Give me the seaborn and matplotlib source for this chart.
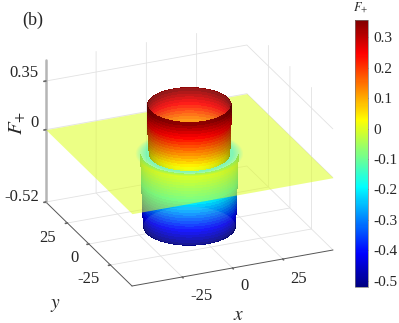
import numpy as np
import matplotlib
matplotlib.use("Agg")
import matplotlib.pyplot as plt
import seaborn as sns
from mpl_toolkits.mplot3d import proj3d
from mpl_toolkits.mplot3d.art3d import Poly3DCollection

sns.set_theme(style="white")
plt.rcParams.update({
    "font.family": ["Liberation Serif", "DejaVu Serif"],
    "mathtext.fontset": "stix",
    "grid.color": "#e2e2e2",
    "grid.linewidth": 0.6,
    "text.color": "#262626",
})

# ---- values ----
plane_x = [-50, 50]
plane_y = [-50, 50]
plane_z = [[0, 0], [0, 0]]

upper_levels = [0.35, 0.33, 0.31, 0.29, 0.27, 0.25, 0.23, 0.21, 0.19, 0.17, 0.15, 0.13,
                0.11, 0.09, 0.07, 0.05, 0.03, 0.01, 0.0]
upper_radii = [19.1, 19.1, 19.1, 19.1, 19.1, 19.1, 19.1, 19.0, 19.0, 19.0, 19.0, 18.9,
               18.9, 18.8, 18.7, 18.6, 18.5, 18.4, 18.3]
lower_levels = [0.0, -0.02, -0.04, -0.06, -0.08, -0.10, -0.12, -0.14, -0.16, -0.18, -0.20,
                -0.22, -0.24, -0.26, -0.28, -0.30, -0.32, -0.34, -0.36, -0.38, -0.40,
                -0.42, -0.44, -0.46, -0.48, -0.50, -0.52]
lower_radii = [22.4, 22.3, 22.3, 22.2, 22.2, 22.1, 22.1, 22.0, 22.0, 21.9, 21.9,
               21.8, 21.8, 21.7, 21.7, 21.6, 21.6, 21.5, 21.5, 21.4, 21.4,
               21.3, 21.3, 21.2, 21.2, 21.1, 21.0]
halo_radii = [24.5, 24.0, 23.5, 23.0, 22.5, 22.0, 21.5, 21.0, 20.5, 20.0]
halo_alpha = 0.055

x_ticks = [-25, 0, 25]
y_ticks = [-25, 0, 25]
z_ticks = [-0.52, 0, 0.35]
x_labels = ["-25", "0", "25"]
y_labels = ["-25", "0", "25"]
z_labels = ["-0.52", "0", "0.35"]
cbar_ticks = [-0.5, -0.4, -0.3, -0.2, -0.1, 0, 0.1, 0.2, 0.3]
cbar_labels = ["-0.5", "-0.4", "-0.3", "-0.2", "-0.1", "0", "0.1", "0.2", "0.3"]
cmap_stops = ["#000080", "#0000ff", "#0080ff", "#00ffff", "#80ff80",
              "#ffff00", "#ff8000", "#ff0000", "#800000"]
value_min, value_max = -0.52, 0.356
axis_top = 0.5

# ---- figure ----
fig = plt.figure(figsize=(3.99, 3.23), dpi=100, facecolor="white")
ax = fig.add_axes([0, 0, 1, 1], projection="3d", proj_type="ortho", computed_zorder=False)
ax.view_init(elev=24.7, azim=-113.2)
ax.set_xlim(-50, 50, view_margin=0)
ax.set_ylim(-50, 50, view_margin=0)
ax.set_zlim(value_min, axis_top, view_margin=0)
ax.set_box_aspect((1, 1, 0.714), zoom=1.0)

cmap = sns.blend_palette(cmap_stops, n_colors=256, as_cmap=True)
norm = plt.Normalize(value_min, value_max)

VIEW_AZ = np.deg2rad(-113.2)


def wall(levels, radii, front, zorder, light=0.3):
    start = VIEW_AZ - np.pi / 2 if front else VIEW_AZ + np.pi / 2
    th = np.linspace(start, start + np.pi, 121)
    z = np.asarray(levels, float)
    r = np.asarray(radii, float)
    T, Z = np.meshgrid(th, z)
    R = r[:, None] * np.ones_like(T)
    zc = 0.5 * (Z[:-1, :-1] + Z[1:, :-1])
    tc = 0.5 * (T[:-1, :-1] + T[:-1, 1:])
    rgba = cmap(norm(zc))
    shade = (1 - light) + light * np.abs(np.cos(tc - VIEW_AZ))
    rgba[..., :3] *= shade[..., None]
    ax.plot_surface(R * np.cos(T), R * np.sin(T), Z, facecolors=rgba, rstride=1, cstride=1,
                    shade=False, antialiased=False, linewidth=0, zorder=zorder)


def disc(radius, level, color, alpha, zorder):
    th = np.linspace(0, 2 * np.pi, 181)
    verts = np.column_stack([radius * np.cos(th), radius * np.sin(th), np.full_like(th, level)])
    ax.add_collection3d(Poly3DCollection([verts], facecolors=[matplotlib.colors.to_rgba(color, alpha)],
                                         edgecolors="none", linewidths=0, zorder=zorder))


# lower tube, seen through the plane
wall(lower_levels, lower_radii, True, 2)
disc(lower_radii[-1], value_min, "white", 0.1, 3)

# plane
PX, PY = np.meshgrid(plane_x, plane_y)
plane_rgba = np.array(cmap(norm(0.0)))
plane_rgba[3] = 0.55
ax.plot_surface(PX, PY, np.array(plane_z, float), color=plane_rgba, shade=False,
                antialiased=False, linewidth=0, zorder=4)

# pale ring around the foot of the tube
for r in halo_radii:
    disc(r, 0.0, cmap(norm(-0.2)), halo_alpha, 5)

# upper tube
wall(upper_levels, upper_radii, False, 6, light=0.2)
disc(upper_radii[0], upper_levels[0], "white", 0.1, 6.5)
wall(upper_levels, upper_radii, True, 7, light=0.45)

# axes styling
for a in (ax.xaxis, ax.yaxis, ax.zaxis):
    a.set_pane_color((1, 1, 1, 0))
    a.pane.set_edgecolor((1, 1, 1, 0))
    a._axinfo["tick"]["inward_factor"] = 0.12
    a._axinfo["tick"]["outward_factor"] = 0.0
ax.xaxis.line.set_color("#555555")
ax.yaxis.line.set_color("#555555")
ax.xaxis.line.set_linewidth(0.7)
ax.yaxis.line.set_linewidth(0.7)
ax.zaxis.line.set_color("#b5b5b5")
ax.zaxis.line.set_linewidth(1.8)
ax.set_xticks(x_ticks)
ax.set_yticks(y_ticks)
ax.set_zticks(z_ticks)
ax.set_xticklabels([])
ax.set_yticklabels([])
ax.set_zticklabels([])
ax.zaxis.set_ticks_position("upper")
ax.tick_params(color="#666666", width=0.5)
ax.grid(True)


def px(x, y, z):
    X, Y, _ = proj3d.proj_transform(x, y, z, ax.get_proj())
    return ax.transData.transform((X, Y))


# fit the box on the canvas: front corner and right corner of the floor
target_front = np.array([132.0, 323 - 286.0])
target_right = np.array([333.0, 323 - 250.0])
fig.canvas.draw()
a = px(-50, -50, value_min)
b = px(50, -50, value_min)
k = np.linalg.norm(target_right - target_front) / np.linalg.norm(b - a)
ax.set_box_aspect((1, 1, 0.714), zoom=k)
fig.canvas.draw()
a = px(-50, -50, value_min)
d = (target_front - a) / np.array([399.0, 323.0])
ax.set_position([d[0], d[1], 1, 1])
fig.canvas.draw()


def tick_text(point, offset, label, ha="center"):
    p = px(*point)
    fig.text((p[0] + offset[0]) / 399, (p[1] - offset[1]) / 323, label, fontsize=12,
             ha=ha, va="center", color="#262626")


for v, lab, off in zip(x_ticks, x_labels, [(19, 19), (12, 18), (16, 20)]):
    tick_text((v, -50, value_min), off, lab)
for v, lab, off in zip(y_ticks, y_labels, [(-22, 14), (-14, 14), (-20, 15)]):
    tick_text((-50, v, value_min), off, lab)
for v, lab, off in zip(z_ticks, z_labels, [(-7, -5), (-7, -7), (-7, -8)]):
    tick_text((-50, 50, v), off, lab, ha="right")

# axis names and panel mark
fig.text(239 / 399, 1 - 316 / 323, r"$x$", fontsize=14, ha="center", va="center")
fig.text(55 / 399, 1 - 305 / 323, r"$y$", fontsize=14, ha="center", va="center")
fig.text(17 / 399, 1 - 123 / 323, r"$F_{+}$", fontsize=15, rotation=90, ha="center", va="center")
fig.text(33 / 399, 1 - 20 / 323, "(b)", fontsize=13, ha="center", va="center")

# colour bar
cax = fig.add_axes([355 / 399, 1 - 287 / 323, 13 / 399, 267 / 323])
sm = plt.cm.ScalarMappable(norm=norm, cmap=cmap)
cb = fig.colorbar(sm, cax=cax)
cb.set_ticks(cbar_ticks)
cb.set_ticklabels(cbar_labels)
cb.ax.tick_params(labelsize=11, direction="in", length=2, width=0.5, color="#555555", pad=4,
                  labelcolor="#262626", right=True)
cb.outline.set_edgecolor("#777777")
cb.outline.set_linewidth(0.5)
fig.text(361 / 399, 1 - 8 / 323, r"$F_{+}$", fontsize=9, ha="center", va="center")

fig.savefig("out.png", dpi=100, facecolor="white")
